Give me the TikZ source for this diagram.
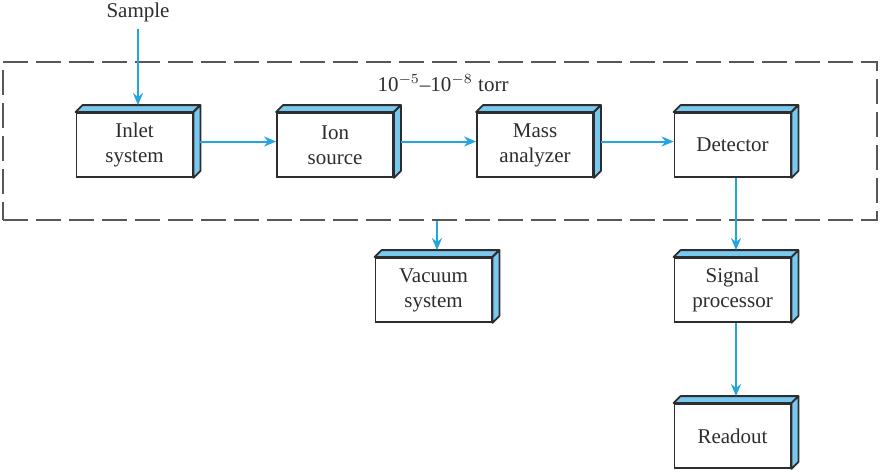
\documentclass[tikz,border=0pt]{standalone}
\usepackage{fontspec}
\setmainfont{Liberation Serif}
\usetikzlibrary{arrows.meta}
\definecolor{facecol}{RGB}{120,200,240}
\definecolor{arrowcol}{RGB}{35,165,225}
\definecolor{inkcol}{RGB}{45,45,45}
\begin{document}
\begin{tikzpicture}[x=0.5pt,y=-0.5pt]
		\tikzset{block/.style = {draw=inkcol, line width=0.9pt, fill=white, text=inkcol,
				minimum width=58pt, minimum height=32pt, align=center,
				font=\fontsize{10.5}{12.5}\selectfont}}
		\tikzset{face/.style = {draw=inkcol, line width=0.9pt, fill=facecol, line join=round}}
		\tikzset{edge/.style = {draw=arrowcol, line width=1pt, -{Stealth[length=6pt,width=5pt]}}}
		\useasboundingbox (0,0) rectangle (881,471);
		
		\node[draw=inkcol!80, line width=1pt, dash pattern=on 12.5pt off 4pt,
			minimum width=437pt, minimum height=79pt] (chamber) at (440, 141) {};
		\node[text=inkcol, font=\fontsize{10.5}{12.5}\selectfont] (torr) at (443, 83) {10$^{-5}$--10$^{-8}$ torr};
		\node[text=inkcol, font=\fontsize{10.5}{12.5}\selectfont] (sample) at (138, 12) {Sample};
		
		\node[block]  (inlet) at (134.5,  145) {Inlet\\system};
		\node[block]  (ion)   at (  335,  145) {Ion\\source};
		\node[block]  (mass)  at (  535,  145) {Mass\\analyzer};
		\node[block]  (det)   at (732.5,  145) {Detector};
		\node[block]  (vac)   at (433.5,  290) {Vacuum\\system};
		\node[block]  (sig)   at (732.5,  290) {Signal\\processor};
		\node[block]  (read)  at (732.5,  436) {Readout};
		
		% blue top and side faces
		\foreach \n in {inlet,ion,mass,det,vac,sig,read} {
			\draw[face] (\n.north west) -- ([shift={(3.5pt,3.5pt)}]\n.north west)
				-- ([shift={(3.5pt,3.5pt)}]\n.north east) -- (\n.north east) -- cycle;
			\draw[face] (\n.north east) -- ([shift={(3.5pt,3.5pt)}]\n.north east)
				-- ([shift={(3.5pt,3.5pt)}]\n.south east) -- (\n.south east) -- cycle;
		}
		
		\draw[edge] (sample.south) to ([shift={(1.75pt,3.5pt)}]inlet.north);
		\draw[edge] ([shift={(3.5pt,1.75pt)}]inlet.east) to ([yshift=1.75pt]ion.west);
		\draw[edge] ([shift={(3.5pt,1.75pt)}]ion.east)   to ([yshift=1.75pt]mass.west);
		\draw[edge] ([shift={(3.5pt,1.75pt)}]mass.east)  to ([yshift=1.75pt]det.west);
		\draw[edge] ([xshift=1.75pt]det.south) to ([shift={(1.75pt,3.5pt)}]sig.north);
		\draw[edge] ([xshift=1.75pt]sig.south) to ([shift={(1.75pt,3.5pt)}]read.north);
		\draw[edge] ([xshift=1.75pt]chamber.south -| vac) to ([shift={(1.75pt,3.5pt)}]vac.north);
\end{tikzpicture}
\end{document}
